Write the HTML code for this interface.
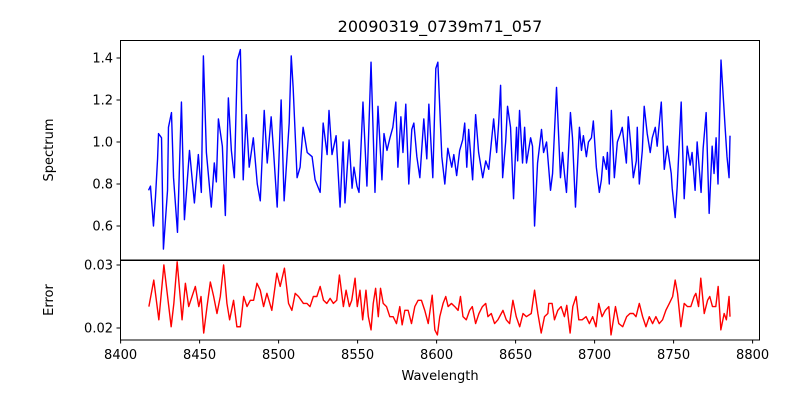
<!DOCTYPE html>
<html><head><meta charset="utf-8"><style>
body{margin:0;background:#fff;}
svg{display:block;font-family:"DejaVu Sans","Liberation Sans",sans-serif;}
</style></head><body>
<svg id="chart" width="800" height="400"></svg>
<script>
const specWave=[17.7,18.9,20.8,22.1,23.4,24.0,25.9,27.1,29.7,30.3,32.2,33.5,36.0,38.5,40.4,43.6,46.7,49.2,51.1,52.4,54.3,57.4,59.3,60.6,61.9,64.4,66.3,68.2,70.1,72.0,73.9,75.8,77.6,79.5,81.4,84.0,86.5,88.4,90.9,92.8,95.3,96.6,99.1,101.6,103.5,106.7,108.0,109.2,111.7,113.6,115.5,118.1,121.2,123.1,126.3,128.2,130.7,131.9,133.8,136.4,
138.9,140.8,142.0,144.6,146.5,147.7,149.6,150.9,153.4,155.9,158.5,161.0,162.9,165.4,166.7,168.6,170.5,172.3,174.2,175.5,177.4,178.7,180.5,182.4,184.3,185.6,187.5,189.4,191.9,193.8,195.1,197.6,199.5,200.8,203.3,205.2,207.1,209.6,210.9,212.7,214.6,216.5,217.8,219.1,220.3,222.8,224.7,226.6,229.2,231.1,233.0,236.1,238.0,239.3,240.5,241.8,243.7,244.9,246.8,248.7,250.6,251.3,252.5,254.4,255.7,256.9,259.5,260.7,262.0,263.9,266.4,267.7,269.6,
272.1,273.4,275.9,278.4,279.7,280.9,282.2,284.7,286.0,287.9,290.4,291.7,292.9,294.8,296.1,298.0,299.2,301.1,303.0,304.3,305.5,307.4,308.1,309.3,310.6,312.5,314.4,316.3,317.5,320.1,321.3,323.2,324.5,326.4,327.0,328.3,330.2,331.4,333.3,335.2,336.5,338.4,339.6,342.2,344.1,346.0,348.5,349.1,351.0,352.3,354.8,356.7,358.6,360.5,361.7,363.6,364.9,367.4,368.7,370.6,372.5,374.4,375.6,376.9,378.1,380.0,382.6,383.8,385.1,385.7];
const specFlux=[0.77,0.79,0.60,0.74,0.92,1.04,1.02,0.49,0.77,1.07,1.14,0.83,0.57,1.19,0.63,0.96,0.71,0.94,0.76,1.41,0.95,0.69,0.90,0.81,1.11,0.98,0.65,1.21,0.96,0.83,1.39,1.44,0.82,1.13,0.88,1.02,0.80,0.72,1.15,0.90,1.12,0.98,0.69,1.20,0.72,1.09,1.41,1.26,0.83,0.88,1.07,0.95,0.93,0.82,0.76,1.09,0.94,1.15,0.94,1.03,
0.69,1.00,0.71,1.01,0.78,0.88,0.79,0.76,1.19,0.79,1.38,0.76,1.17,0.82,1.04,0.96,1.02,1.07,1.19,0.88,1.12,0.95,1.18,0.80,1.06,1.09,0.93,0.83,1.11,0.92,1.18,0.83,1.35,1.38,0.93,0.80,0.97,0.88,0.94,0.84,0.96,1.01,1.09,0.88,1.06,0.82,1.13,0.95,0.83,0.91,0.87,1.11,0.95,1.09,1.27,0.83,1.00,1.17,1.07,0.73,1.07,0.91,1.15,0.90,1.07,0.90,1.02,0.98,0.60,0.90,1.06,0.95,1.00,
0.77,0.85,1.26,0.83,0.95,0.85,0.76,1.14,1.02,0.69,1.07,0.96,1.03,0.93,1.00,1.02,1.10,0.88,0.76,0.82,0.93,0.87,0.95,0.80,1.15,0.83,1.00,1.04,1.07,0.90,1.12,0.96,0.83,0.91,1.07,0.80,0.96,1.17,1.04,0.95,1.02,1.07,0.98,1.19,0.87,0.98,0.85,0.78,0.64,0.79,1.19,0.73,0.98,0.89,0.95,0.77,1.00,0.76,0.97,1.14,0.66,0.98,0.85,1.02,0.80,1.39,1.07,0.93,0.83,1.03];
const errWave=[17.9,21.0,24.2,27.4,29.5,32.0,33.7,35.8,37.9,38.9,41.0,43.1,45.2,47.3,49.5,50.9,52.6,54.7,56.8,58.9,61.0,63.1,65.2,67.3,69.0,71.5,73.6,75.8,77.9,80.0,82.1,84.2,86.3,88.4,90.5,92.6,95.7,98.9,101.0,103.7,106.3,108.4,110.5,112.6,115.7,117.9,119.9,122.0,124.2,126.3,128.4,130.5,132.6,134.7,136.8,138.5,
141.0,142.7,144.8,146.3,148.4,149.8,151.5,153.2,155.3,156.8,158.5,159.9,161.4,163.1,164.5,166.2,168.3,170.4,172.5,174.6,176.7,178.2,179.9,182.0,184.1,186.2,188.3,190.4,192.5,194.7,197.2,198.9,200.5,202.0,204.1,205.8,207.3,209.4,211.5,213.6,215.1,216.7,218.8,220.9,222.6,224.7,226.8,229.0,231.1,232.5,234.6,236.7,238.8,242.0,244.1,246.2,248.3,250.4,252.6,254.7,256.8,259.9,262.0,264.1,266.2,268.3,270.4,
271.0,273.1,274.6,276.7,278.8,280.9,282.4,284.5,286.2,288.3,290.0,292.1,294.6,296.7,298.8,300.9,302.6,304.7,306.8,309.0,310.4,313.2,315.3,317.8,320.3,322.4,324.5,326.2,328.3,330.4,332.5,334.6,336.7,338.8,340.9,343.0,345.1,347.3,349.4,351.0,352.5,354.6,356.7,358.8,360.9,363.0,364.1,365.8,367.2,369.4,371.5,372.9,374.6,376.7,378.2,379.9,382.0,383.4,385.1,385.7];
const errVal=[0.0234,0.0276,0.0213,0.0300,0.0255,0.0202,0.0239,0.0305,0.0244,0.0213,0.0271,0.0234,0.0250,0.0266,0.0234,0.0250,0.0192,0.0234,0.0273,0.0250,0.0223,0.0250,0.0300,0.0239,0.0213,0.0244,0.0202,0.0202,0.0250,0.0234,0.0244,0.0244,0.0271,0.0260,0.0234,0.0255,0.0228,0.0287,0.0266,0.0295,0.0239,0.0228,0.0255,0.0250,0.0239,0.0239,0.0234,0.0250,0.0250,0.0266,0.0244,0.0239,0.0247,0.0239,0.0244,0.0284,
0.0234,0.0260,0.0234,0.0244,0.0279,0.0234,0.0260,0.0213,0.0260,0.0218,0.0197,0.0239,0.0263,0.0218,0.0263,0.0239,0.0234,0.0218,0.0218,0.0207,0.0234,0.0205,0.0228,0.0228,0.0207,0.0234,0.0244,0.0244,0.0228,0.0207,0.0252,0.0197,0.0189,0.0218,0.0239,0.0250,0.0234,0.0239,0.0234,0.0228,0.0250,0.0218,0.0213,0.0228,0.0234,0.0207,0.0223,0.0234,0.0239,0.0218,0.0223,0.0207,0.0213,0.0228,0.0213,0.0207,0.0244,0.0218,0.0202,0.0223,0.0218,0.0223,0.0260,0.0223,0.0192,0.0218,0.0223,
0.0239,0.0239,0.0213,0.0228,0.0234,0.0218,0.0236,0.0192,0.0234,0.0250,0.0213,0.0213,0.0218,0.0207,0.0218,0.0202,0.0239,0.0218,0.0228,0.0234,0.0189,0.0234,0.0207,0.0202,0.0218,0.0223,0.0223,0.0218,0.0239,0.0218,0.0202,0.0218,0.0207,0.0218,0.0207,0.0213,0.0228,0.0239,0.0250,0.0276,0.0255,0.0202,0.0239,0.0234,0.0234,0.0250,0.0255,0.0234,0.0279,0.0223,0.0244,0.0250,0.0234,0.0234,0.0266,0.0197,0.0223,0.0213,0.0250,0.0218];
const xTicks=[8400,8450,8500,8550,8600,8650,8700,8750,8800];
const specTicks=[0.6,0.8,1.0,1.2,1.4];
const errTicks=[0.02,0.03];
const waveBase=8400;

const NS='http://www.w3.org/2000/svg';
const svg=document.getElementById('chart');
function X(w){return 120.6+(w-8400)*1.58;}
function Ys(v){return 58+(1.4-v)*210;}
function Ye(v){return 265+(0.03-v)*6300;}
function mk(tag,attrs,parent){const e=document.createElementNS(NS,tag);for(const k in attrs)e.setAttribute(k,attrs[k]);(parent||svg).appendChild(e);return e;}
function txt(s,attrs){const t=mk('text',attrs);t.textContent=s;return t;}

let t=txt('20090319_0739m71_057',{x:440,y:32,'font-size':16,'text-anchor':'middle',fill:'#000'});



let d='';
specWave.forEach((w,i)=>{d+=(i?'L':'M')+X(waveBase+w).toFixed(2)+','+Ys(specFlux[i]).toFixed(2);});
let p=mk('path',{d:d,fill:'none',stroke:'#0000ff','stroke-width':1.4,'stroke-linejoin':'round'});


d='';
errWave.forEach((w,i)=>{d+=(i?'L':'M')+X(waveBase+w).toFixed(2)+','+Ye(errVal[i]).toFixed(2);});
p=mk('path',{d:d,fill:'none',stroke:'#ff0000','stroke-width':1.4,'stroke-linejoin':'round'});



let r=mk('rect',{x:120.5,y:40.5,width:639,height:219.5,fill:'none',stroke:'#000','stroke-width':1});


r=mk('rect',{x:120.5,y:260.5,width:639,height:79.5,fill:'none',stroke:'#000','stroke-width':1});



xTicks.forEach(v=>{const x=X(v);
 const l=mk('line',{x1:x,x2:x,y1:340,y2:343.5,stroke:'#000','stroke-width':1});
 
 
 const tt=txt(String(v),{x:x,y:359,'font-size':13,'text-anchor':'middle',fill:'#000'});
 
 
});
specTicks.forEach(v=>{const y=Ys(v);
 const l=mk('line',{x1:116.5,x2:120.5,y1:y,y2:y,stroke:'#000','stroke-width':1});
 
 
 const tt=txt(v.toFixed(1),{x:113,y:y+4.5,'font-size':13,'text-anchor':'end',fill:'#000'});
 
 
});
errTicks.forEach(v=>{const y=Ye(v);
 const l=mk('line',{x1:116.5,x2:120.5,y1:y,y2:y,stroke:'#000','stroke-width':1});
 
 
 const tt=txt(v.toFixed(2),{x:113,y:y+4.5,'font-size':13,'text-anchor':'end',fill:'#000'});
 
 
});
t=txt('Wavelength',{x:440,y:380,'font-size':13,'text-anchor':'middle',fill:'#000'});


t=txt('Spectrum',{x:0,y:0,'font-size':13,'text-anchor':'middle',fill:'#000',transform:'translate(53,150) rotate(-90)'});


t=txt('Error',{x:0,y:0,'font-size':13,'text-anchor':'middle',fill:'#000',transform:'translate(53,300) rotate(-90)'});


</script>
</body></html>
